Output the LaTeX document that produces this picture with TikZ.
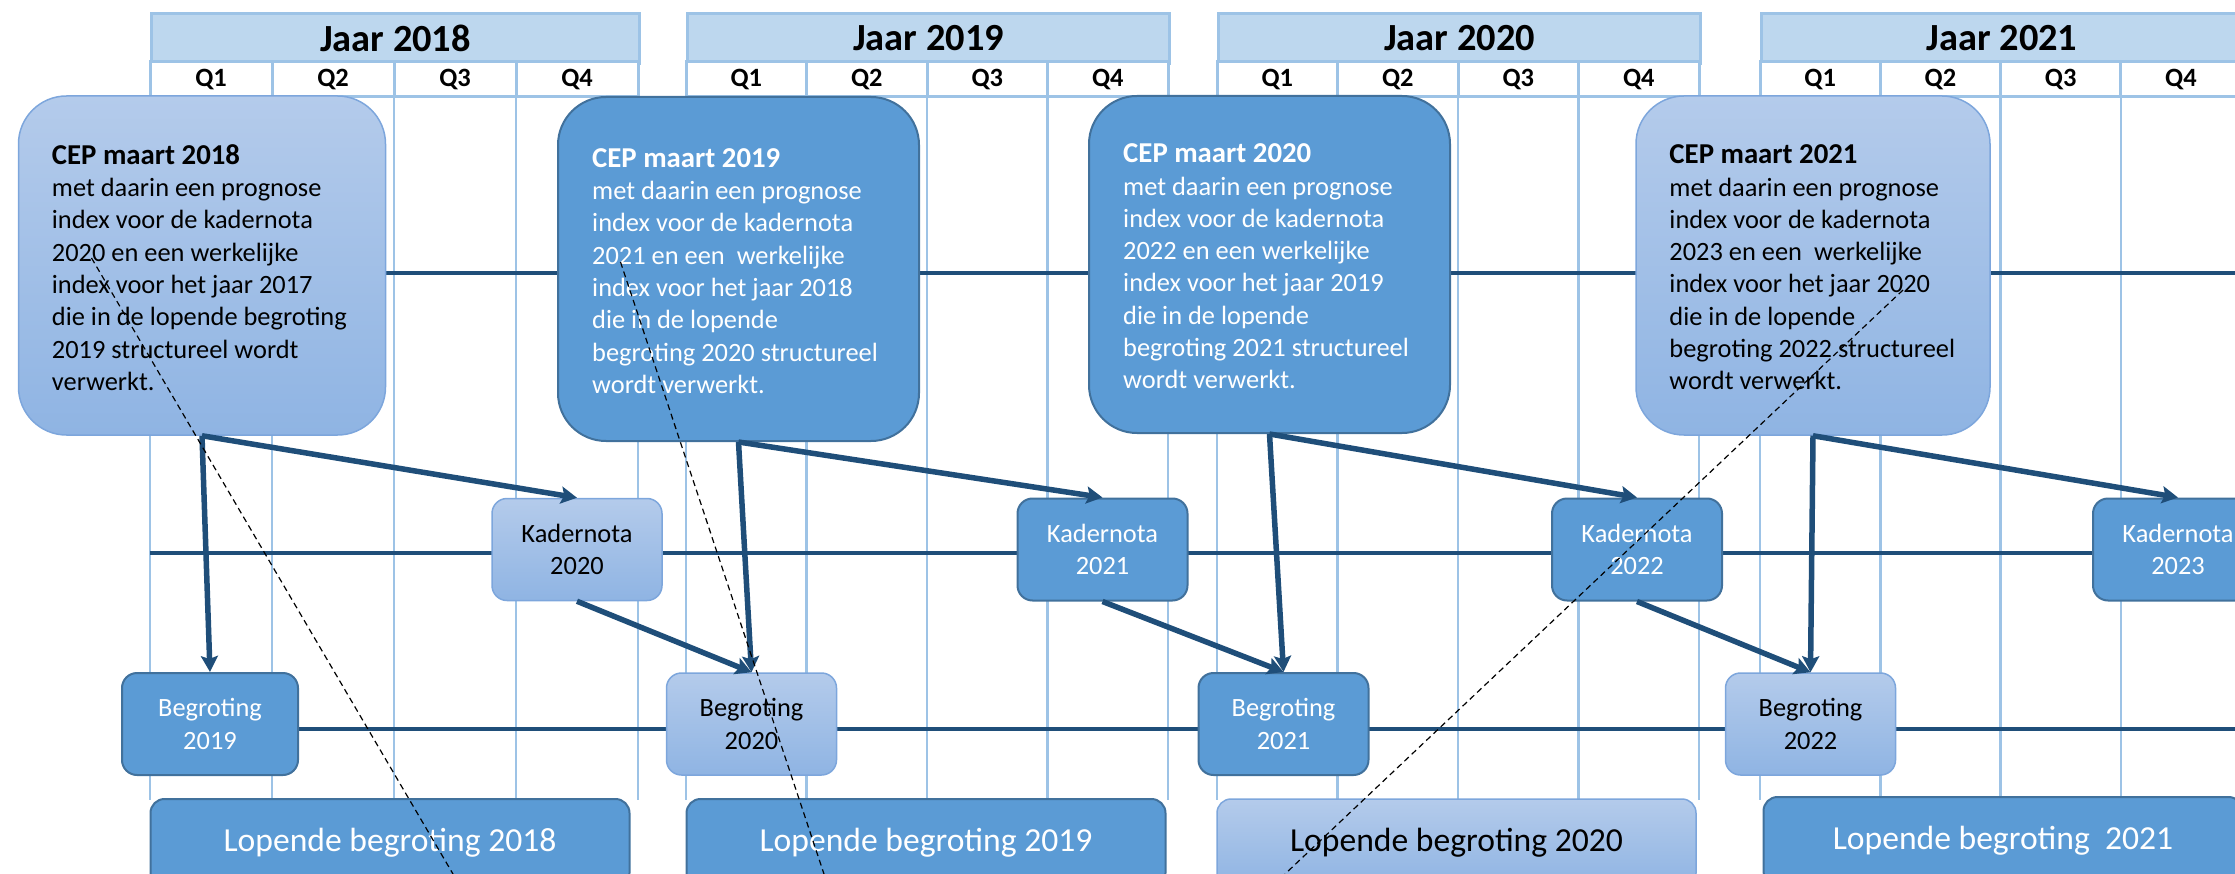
\documentclass[tikz,border=0pt]{standalone}
\usepackage{fontspec}
\setmainfont{Carlito}
\usetikzlibrary{arrows.meta}

\definecolor{kopblauw}{RGB}{189,215,238}
\definecolor{rasterblauw}{RGB}{157,195,230}
\definecolor{donkerblauw}{RGB}{31,78,121}
\definecolor{middenblauw}{RGB}{91,155,213}
\definecolor{middenrand}{RGB}{65,113,156}
\definecolor{lichtboven}{RGB}{180,203,235}
\definecolor{lichtonder}{RGB}{143,180,227}
\definecolor{lichtrand}{RGB}{125,166,220}

\newcommand{\tekstelf}{\fontsize{26.4}{32.3}\selectfont}
\newcommand{\tekstkop}{\fontsize{28.8}{34}\selectfont\bfseries}

\tikzset{
  midden/.style={draw=middenrand, line width=2pt, fill=middenblauw, text=white},
  licht/.style={draw=lichtrand, line width=1.5pt, top color=lichtboven, bottom color=lichtonder, text=black},
  cep/.style={rounded corners=48pt},
  ceptekst/.style={anchor=west, align=left, inner sep=0pt, font=\tekstelf},
  stuk/.style={rounded corners=15pt, minimum width=170pt, minimum height=102pt, align=center, font=\tekstelf},
  lopend/.style={rounded corners=14pt, minimum width=479pt, minimum height=88pt, font=\fontsize{33.6}{40}\selectfont},
  jaarkop/.style={draw=rasterblauw, line width=3pt, fill=kopblauw, anchor=north west, minimum height=50pt, font=\fontsize{38.4}{46}\selectfont\bfseries},
  kwartaal/.style={draw=rasterblauw, line width=3pt, fill=white, minimum height=35pt, font=\fontsize{26.4}{31}\selectfont\bfseries},
  raster/.style={rasterblauw, line width=2.5pt},
  tijdlijn/.style={donkerblauw, line width=4.5pt},
  pijl/.style={->, donkerblauw, line width=5.5pt},
  streep/.style={black, line width=1.2pt, dash pattern=on 6pt off 4pt}
}

\begin{document}
\begin{tikzpicture}[x=1pt, y=-1pt, >={Stealth[length=16pt,width=17pt,inset=3pt]}]
\useasboundingbox (0,0) rectangle (2235,874);
\clip (0,0) rectangle (2235,874);

% jaren en kwartalen
\foreach \jr/\xa/\br in {2018/150/488, 2019/686/482, 2020/1217/482, 2021/1760/481}{
  \node[jaarkop, minimum width=\br*1pt] (jaar\jr) at (\xa,12) {Jaar \jr};
  \foreach \q in {1,...,4}
    \node[kwartaal, minimum width=\br*0.25pt] (q\jr\q) at ({\xa+(\q-0.5)*\br/4},79.5) {Q\q};
  \foreach \i in {0,...,4}
    \draw[raster] ({\xa+\i*\br/4},97) -- ({\xa+\i*\br/4},800);
}

\draw[tijdlijn] (150,273) -- (2235,273);
\draw[tijdlijn] (150,553) -- (2235,553);
\draw[tijdlijn] (150,729) -- (2235,729);

% CEP
\node[cep, licht, minimum width=367pt, minimum height=339pt] (cep18) at (202,265.5) {};
\node[ceptekst, text=black] (cep18t) at ([xshift=34pt,yshift=-2pt]cep18.west) {{\tekstkop CEP maart 2018}\\met daarin een prognose\\index voor de kadernota\\2020 en een werkelijke\\index voor het jaar 2017\\die in de lopende begroting\\2019 structureel wordt\\verwerkt.};

\node[cep, midden, minimum width=361pt, minimum height=344pt] (cep19) at (738.5,269) {};
\node[ceptekst, text=white] (cep19t) at ([xshift=35pt,yshift=-2pt]cep19.west) {{\tekstkop CEP maart 2019}\\met daarin een prognose\\index voor de kadernota\\2021 en een\ \ werkelijke\\index voor het jaar 2018\\die in de lopende\\begroting 2020 structureel\\wordt verwerkt.};

\node[cep, midden, minimum width=361pt, minimum height=337pt] (cep20) at (1269.5,264.5) {};
\node[ceptekst, text=white] (cep20t) at ([xshift=35pt,yshift=-2pt]cep20.west) {{\tekstkop CEP maart 2020}\\met daarin een prognose\\index voor de kadernota\\2022 en een werkelijke\\index voor het jaar 2019\\die in de lopende\\begroting 2021 structureel\\wordt verwerkt.};

\node[cep, licht, minimum width=354pt, minimum height=339pt] (cep21) at (1813,265.5) {};
\node[ceptekst, text=black] (cep21t) at ([xshift=34pt,yshift=-2pt]cep21.west) {{\tekstkop CEP maart 2021}\\met daarin een prognose\\index voor de kadernota\\2023 en een\ \ werkelijke\\index voor het jaar 2020\\die in de lopende\\begroting 2022 structureel\\wordt verwerkt.};

% kadernota's en begrotingen
\node[stuk, licht] (kn20) at (577,549.5) {Kadernota\\2020};
\node[stuk, midden] (kn21) at (1102.5,549.5) {Kadernota\\2021};
\node[stuk, midden] (kn22) at (1637,549.5) {Kadernota\\2022};
\node[stuk, midden] (kn23) at (2178,549.5) {Kadernota\\2023};

\node[stuk, midden, minimum width=176pt] (bg19) at (210,724) {Begroting\\2019};
\node[stuk, licht] (bg20) at (751.5,724) {Begroting\\2020};
\node[stuk, midden] (bg21) at (1283.5,724) {Begroting\\2021};
\node[stuk, licht] (bg22) at (1810.5,724) {Begroting\\2022};

\node[lopend, midden] (lb18) at (390,843) {Lopende begroting 2018};
\node[lopend, midden] (lb19) at (926,843) {Lopende begroting 2019};
\node[lopend, licht] (lb20) at (1456.5,843) {Lopende begroting 2020};
\node[lopend, midden] (lb21) at (2003,841) {Lopende begroting\ \ 2021};

% pijlen
\draw[pijl] (cep18.south) -- (kn20.north);
\draw[pijl] (cep18.south) -- (bg19.north);
\draw[pijl] (kn20.south) -- (bg20.north);
\draw[pijl] (cep19.south) -- (kn21.north);
\draw[pijl] (cep19.south) -- (bg20.north);
\draw[pijl] (kn21.south) -- (bg21.north);
\draw[pijl] (cep20.south) -- (kn22.north);
\draw[pijl] (cep20.south) -- (bg21.north);
\draw[pijl] (kn22.south) -- (bg22.north);
\draw[pijl] (cep21.south) -- (kn23.north);
\draw[pijl] (cep21.south) -- (bg22.north);

\draw[streep] (91.5,258) -- (453,874);
\draw[streep] (620.5,262) -- (824,874);
\draw[streep] (1903,290) -- (1285,874);

\end{tikzpicture}
\end{document}
